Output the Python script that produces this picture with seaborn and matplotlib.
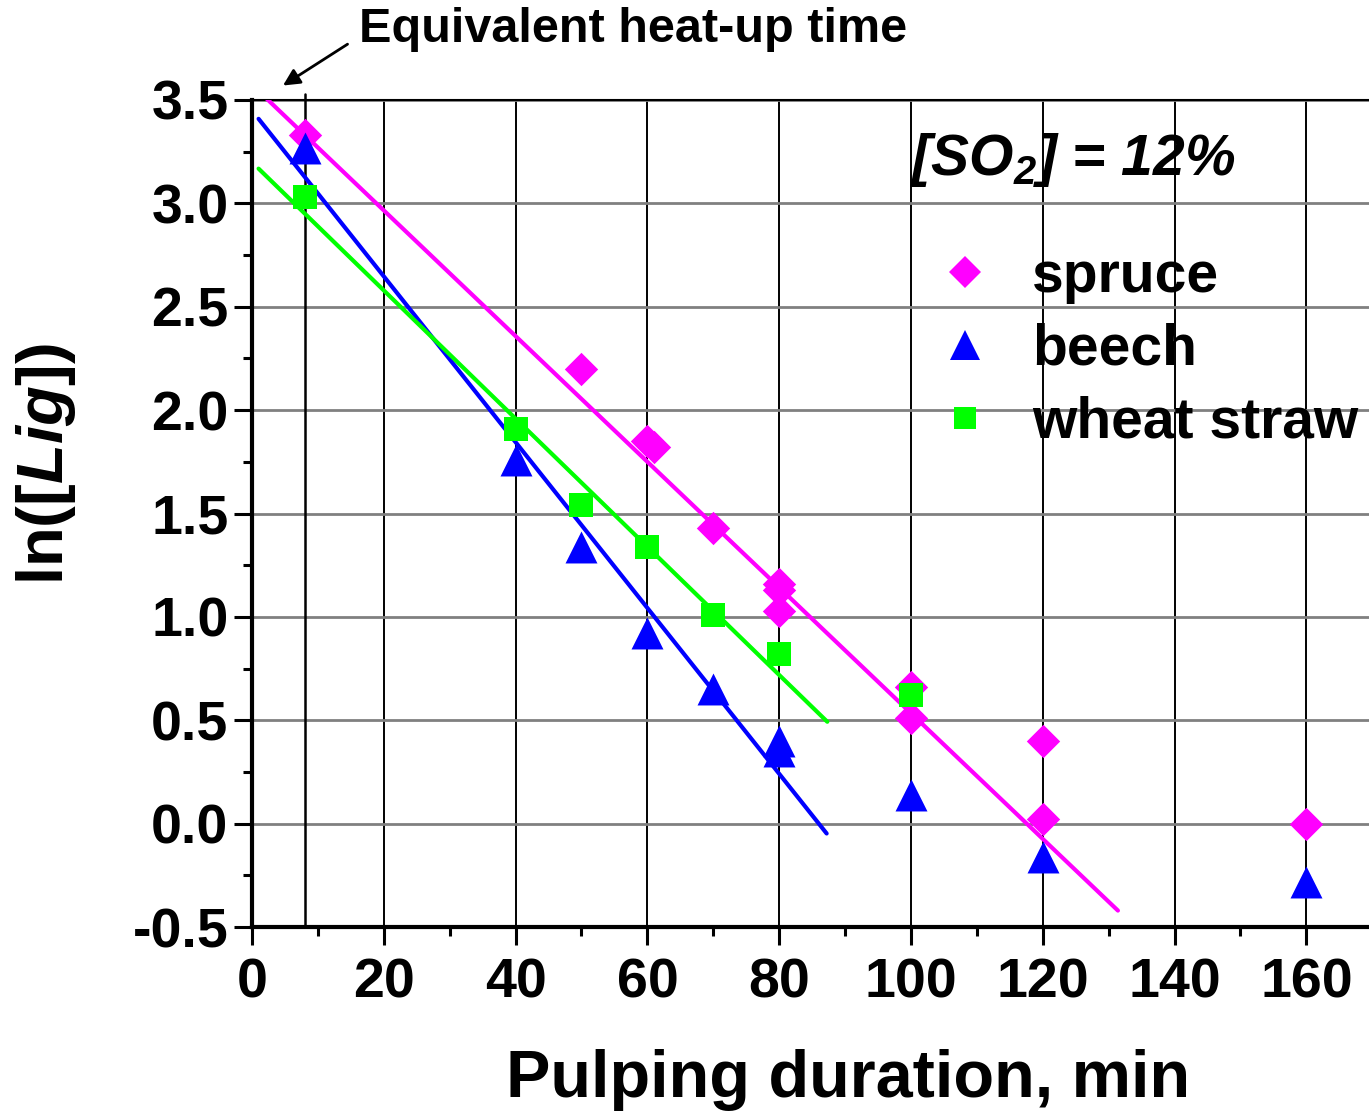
import numpy as np
import pandas as pd
import matplotlib
matplotlib.use('Agg')
import matplotlib.pyplot as plt
from matplotlib.ticker import MultipleLocator
from matplotlib.lines import Line2D
import seaborn as sns

sns.set_style('white')
plt.rcParams['font.family'] = ['Liberation Sans', 'DejaVu Sans']
plt.rcParams['font.weight'] = 'bold'
plt.rcParams['text.color'] = 'black'
plt.rcParams['axes.labelcolor'] = 'black'
plt.rcParams['xtick.color'] = 'black'
plt.rcParams['ytick.color'] = 'black'
plt.rcParams['mathtext.fontset'] = 'custom'
plt.rcParams['mathtext.rm'] = 'Liberation Sans:bold'
plt.rcParams['mathtext.it'] = 'Liberation Sans:bold:italic'
plt.rcParams['mathtext.bf'] = 'Liberation Sans:bold:italic'

# data
spruce_t = [8, 50, 60, 61, 70, 80, 80, 80, 100, 100, 120, 120, 160]
spruce_lig = [3.33, 2.20, 1.85, 1.82, 1.43, 1.16, 1.13, 1.03, 0.66, 0.51, 0.40, 0.02, 0.0]
beech_t = [8, 40, 50, 60, 70, 80, 80, 100, 120, 160]
beech_lig = [3.27, 1.76, 1.34, 0.92, 0.65, 0.40, 0.35, 0.14, -0.16, -0.28]
straw_t = [8, 40, 50, 60, 70, 80, 100]
straw_lig = [3.03, 1.91, 1.54, 1.34, 1.01, 0.82, 0.62]

species = ['spruce', 'beech', 'wheat straw']
colors = ['#FF00FF', '#0000FF', '#00FF00']
markers = ['D', '^', 's']
msizes = [17, 23, 17]

# linear fits: slope, intercept, x range
fit_slope = [-0.0304, -0.0401, -0.0310]
fit_icpt = [3.574, 3.449, 3.199]
fit_x0 = [0, 1, 1]
fit_x1 = [131.4, 87.2, 87.3]

heatup_t = 8

df = pd.concat([
    pd.DataFrame({'t': spruce_t, 'lig': spruce_lig, 'species': 'spruce'}),
    pd.DataFrame({'t': beech_t, 'lig': beech_lig, 'species': 'beech'}),
    pd.DataFrame({'t': straw_t, 'lig': straw_lig, 'species': 'wheat straw'}),
])

fig = plt.figure(figsize=(13.69, 11.14), dpi=100)
ax = fig.add_axes([252/1369, 1-927/1114, 1117/1369, 827/1114])

for sp, c, m, ms, k, b, x0, x1 in zip(species, colors, markers, msizes,
                                     fit_slope, fit_icpt, fit_x0, fit_x1):
    xx = np.array([x0, x1])
    sns.lineplot(x=xx, y=k*xx + b, ax=ax, color=c, lw=3, zorder=3)
    sub = df[df.species == sp]
    sns.scatterplot(data=sub, x='t', y='lig', ax=ax, color=c, marker=m,
                    s=ms**2, linewidth=0, zorder=4)

ax.axvline(heatup_t, ymin=0, ymax=1.007, color='black', lw=1.8, clip_on=False, zorder=2)

ax.set_xlim(0, 169.5)
ax.set_ylim(-0.5, 3.5)
ax.xaxis.set_major_locator(MultipleLocator(20))
ax.xaxis.set_minor_locator(MultipleLocator(10))
ax.yaxis.set_major_locator(MultipleLocator(0.5))
ax.yaxis.set_minor_locator(MultipleLocator(0.25))
ax.set_yticks(np.arange(-0.5, 3.51, 0.5))
ax.set_yticklabels(['-0.5', '0.0', '0.5', '1.0', '1.5', '2.0', '2.5', '3.0', '3.5'])
ax.set_xticks(np.arange(0, 161, 20))

ax.grid(axis='x', which='major', color='black', lw=1.4)
ax.grid(axis='y', which='major', color='#808080', lw=2)
ax.tick_params(which='major', direction='out', length=13, width=2.2,
               labelsize=40, pad=4, bottom=True, left=True)
ax.tick_params(axis='x', which='major', pad=9)
ax.tick_params(which='minor', direction='out', length=6.5, width=2.2,
               bottom=True, left=True)
for t in ax.get_xticklabels() + ax.get_yticklabels():
    t.set_fontweight('bold')

for s in ['left', 'bottom']:
    ax.spines[s].set_linewidth(3)
    ax.spines[s].set_color('black')
ax.spines['top'].set_linewidth(1.5)
ax.spines['top'].set_color('black')
ax.spines['right'].set_visible(False)

ax.set_xlabel('Pulping duration, min', fontsize=48, fontweight='bold')
ax.xaxis.set_label_coords(0.534, -0.147)
ax.set_ylabel(r'ln([$\mathit{Lig}$])', fontsize=47, fontweight='bold')
ax.yaxis.set_label_coords(-0.156, 0.559)

ax.text(124.6, 3.21, r'[SO$_\mathregular{2}$] = 12%', fontsize=41,
        fontstyle='italic', fontweight='bold', ha='center', va='center')

ax.annotate('', xy=(4.7, 3.57), xytext=(14.5, 3.77), xycoords='data',
            annotation_clip=False,
            arrowprops=dict(arrowstyle='-|>', color='black', lw=2,
                            mutation_scale=25, shrinkA=0, shrinkB=0))
ax.text(16.3, 3.84, 'Equivalent heat-up time', fontsize=35, fontweight='bold',
        ha='left', va='center', clip_on=False)

handles = [Line2D([], [], ls='none', marker=m, color=c, markersize=ms*0.95,
                  markeredgewidth=0)
           for m, c, ms in zip(markers, colors, msizes)]
leg = ax.legend(handles, species, loc='upper left', bbox_to_anchor=(0.587, 0.846),
                frameon=False, fontsize=41, handlelength=1.2, handletextpad=0.58,
                labelspacing=0.33, borderaxespad=0)
for t in leg.get_texts():
    t.set_fontweight('bold')

fig.savefig('out.png', dpi=100)
